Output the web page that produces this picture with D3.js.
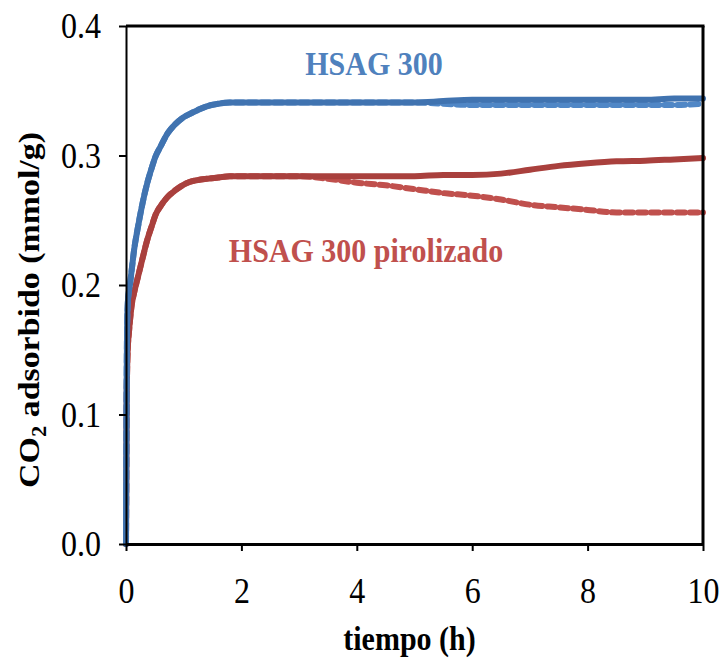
<!DOCTYPE html>
<html><head><meta charset="utf-8">
<script src="https://cdn.jsdelivr.net/npm/d3@7"></script>
<style>body{margin:0;background:#fff}svg{display:block}</style>
</head><body>
<svg id="c" width="721" height="660"></svg>
<script>
const time = [0,0.005,0.01,0.02,0.03,0.05,0.07,0.1,0.14,0.2,0.25,0.3,0.37,0.45,0.51,0.6,0.72,0.85,0.98,1.1,1.24,1.4,1.6,1.8,2,2.5,3,3.5,4,4.5,5,5.5,6,6.5,7,7.5,8,8.5,9,9.5,10];
const hsagRunA = [0,0.06,0.12,0.17,0.185,0.195,0.201,0.212,0.227,0.243,0.255,0.266,0.279,0.291,0.299,0.307,0.317,0.324,0.329,0.332,0.335,0.338,0.340,0.341,0.341,0.341,0.341,0.341,0.341,0.341,0.341,0.342,0.343,0.343,0.343,0.343,0.343,0.343,0.343,0.344,0.344];
const hsagRunB = [0,0.06,0.12,0.17,0.185,0.195,0.201,0.212,0.227,0.243,0.255,0.266,0.279,0.291,0.299,0.307,0.317,0.324,0.329,0.332,0.335,0.338,0.340,0.341,0.341,0.341,0.341,0.341,0.341,0.341,0.341,0.340,0.339,0.339,0.339,0.339,0.339,0.339,0.339,0.339,0.340];
const pirRunA = [0,0.05,0.10,0.135,0.15,0.163,0.173,0.185,0.194,0.205,0.214,0.223,0.235,0.246,0.254,0.261,0.268,0.273,0.277,0.2795,0.281,0.282,0.283,0.284,0.284,0.284,0.284,0.284,0.284,0.284,0.284,0.285,0.285,0.286,0.289,0.292,0.294,0.2955,0.296,0.297,0.298];
const pirRunB = [0,0.05,0.10,0.135,0.15,0.163,0.173,0.185,0.194,0.205,0.214,0.223,0.235,0.246,0.254,0.261,0.268,0.273,0.277,0.2795,0.281,0.282,0.283,0.284,0.284,0.284,0.284,0.282,0.279,0.277,0.274,0.271,0.269,0.266,0.262,0.260,0.258,0.256,0.256,0.256,0.256];
const xTicks = [0,2,4,6,8,10];
const yTicks = [0,0.1,0.2,0.3,0.4];
const labels = ["HSAG 300","HSAG 300 pirolizado"];

const svg = d3.select("#c");
const L=126,R=703,T=26,B=544;
const SY = 1.13; // vertical stretch of text in the reference
const x = d3.scaleLinear().domain([0,10]).range([L,R]);
const y = d3.scaleLinear().domain([0,0.4]).range([B,T]);
const font = "'Liberation Serif','Times New Roman',serif";

const line = d3.line().x((d,i)=>x(time[i])).y(d=>y(d)).curve(d3.curveMonotoneX);
const series = [
  {v:pirRunB, c:"#C0504D", dash:"8,5"},
  {v:pirRunA, c:"#A9403D", dash:null},
  {v:hsagRunB, c:"#5087C6", dash:"8,5"},
  {v:hsagRunA, c:"#4073B0", dash:null}
];
series.forEach(s=>{
  svg.append("path").datum(s.v).attr("d",line)
    .attr("fill","none").attr("stroke",s.c).attr("stroke-width",6)
    .attr("stroke-linecap","round").attr("stroke-linejoin","round")
    .attr("stroke-dasharray",s.dash);
});

// frame
svg.append("line").attr("x1",L).attr("x2",R+1.5).attr("y1",T).attr("y2",T).attr("stroke","#000").attr("stroke-width",3);
svg.append("line").attr("x1",R).attr("x2",R).attr("y1",T).attr("y2",B).attr("stroke","#000").attr("stroke-width",3);

const ya = svg.append("g").attr("transform",`translate(${L},0)`)
  .call(d3.axisLeft(y).tickValues(yTicks).tickFormat(d3.format(".1f")).tickSize(7).tickSizeOuter(0).tickPadding(18));
ya.select(".domain").attr("stroke-width",2);
ya.selectAll(".tick line").attr("stroke-width",2);
ya.selectAll("text").attr("font-family",font).attr("font-size",32).attr("fill","#000")
  .attr("dy","0.33em").attr("transform",`scale(1,${SY})`);

const xa = svg.append("g").attr("transform",`translate(0,${B})`)
  .call(d3.axisBottom(x).tickValues(xTicks).tickSize(7).tickSizeOuter(0).tickPadding(0));
xa.select(".domain").attr("stroke-width",3);
xa.selectAll(".tick line").attr("stroke-width",2);
xa.selectAll("text").attr("font-family",font).attr("font-size",32).attr("fill","#000")
  .attr("y",0).attr("dy",0).attr("transform",`translate(0,59) scale(1,${SY})`);

svg.append("text").attr("transform",`translate(${(L+R)/2-5},650) scale(1,${SY})`).attr("text-anchor","middle")
  .attr("font-family",font).attr("font-size",30).attr("font-weight","bold").text("tiempo (h)");

const yt = svg.append("text").attr("transform",`translate(39,${(T+B)/2+25}) rotate(-90) scale(${SY},1)`).attr("text-anchor","middle")
  .attr("font-family",font).attr("font-size",30).attr("font-weight","bold");
yt.append("tspan").text("CO");
yt.append("tspan").attr("font-size",20).attr("dy",7).text("2");
yt.append("tspan").attr("dy",-7).text(" adsorbido (mmol/g)");

svg.append("text").attr("transform",`translate(374,75) scale(1,${SY})`).attr("text-anchor","middle")
  .attr("font-family",font).attr("font-size",30).attr("font-weight","bold").attr("fill","#4F81BD").text(labels[0]);
svg.append("text").attr("transform",`translate(366,262) scale(1,${SY})`).attr("text-anchor","middle")
  .attr("font-family",font).attr("font-size",30).attr("font-weight","bold").attr("fill","#C0504D").text(labels[1]);
</script>
</body></html>
